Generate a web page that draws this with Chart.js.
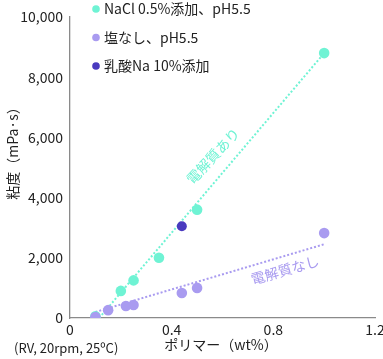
<!DOCTYPE html>
<html>
<head>
<meta charset="utf-8">
<script src="https://cdn.jsdelivr.net/npm/chart.js@4.4.1/dist/chart.umd.min.js"></script>
<style>
   html, body { margin: 0; padding: 0; background: #fff; }
   #wrap { width: 383px; height: 359px; }
</style>
</head>
<body>
<div id="wrap"><canvas id="viscChart" width="383" height="359"></canvas></div>
<script>
// series values (polymer wt%, viscosity mPa·s)
const naclX = [0.1, 0.2, 0.25, 0.35, 0.5, 1.0];
const naclY = [60, 900, 1250, 2000, 3600, 8800];
const plainX = [0.1, 0.15, 0.22, 0.25, 0.44, 0.5, 1.0];
const plainY = [30, 260, 400, 430, 830, 1000, 2820];
const lactateX = [0.44];
const lactateY = [3050];

// dotted trend lines (end points)
const naclTrendX = [0.115, 1.0];
const naclTrendY = [0, 8800];
const plainTrendX = [0.1, 1.0];
const plainTrendY = [200, 2450];

const seriesLabels = ['NaCl 0.5%添加、pH5.5', '塩なし、pH5.5', '乳酸Na 10%添加'];
const xTicks = [0, 0.4, 0.8, 1.2];
const yTicks = [0, 2000, 4000, 6000, 8000, 10000];

const turq = '#6ff3d4';
const lilac = '#a99bf0';
const indigo = '#4a3abf';
const jpFont = '"Noto Sans CJK JP", "Noto Sans", sans-serif';

function pts(xs, ys){
   return xs.map((x, i) => ({x: x, y: ys[i]}));
}

const extraText = {
   id: 'extraText',
   afterDraw(chart){
      const ctx = chart.ctx;
      ctx.save();
      ctx.font = '14px ' + jpFont;
      ctx.textBaseline = 'middle';

      // legend
      const colors = [turq, lilac, indigo];
      seriesLabels.forEach((t, i) => {
         const y = 9 + i * 28.5;
         ctx.fillStyle = colors[i];
         ctx.beginPath();
         ctx.arc(96, y, 3.8, 0, Math.PI * 2);
         ctx.fill();
         ctx.fillStyle = '#222';
         ctx.textAlign = 'left';
         ctx.fillText(t, 104, y);
      });

      // axis titles
      ctx.textAlign = 'center';
      ctx.fillStyle = '#222';
      ctx.fillText('ポリマー（wt%）', 221, 345);
      ctx.save();
      ctx.translate(13, 150);
      ctx.rotate(-Math.PI / 2);
      ctx.fillText('粘度（mPa·s）', 0, 0);
      ctx.restore();

      ctx.font = '13px ' + jpFont;
      ctx.textAlign = 'left';
      ctx.fillText('(RV, 20rpm, 25ºC)', 14, 348);

      // line labels
      ctx.font = '14px ' + jpFont;
      ctx.textAlign = 'center';
      ctx.save();
      ctx.fillStyle = turq;
      ctx.translate(213, 156);
      ctx.rotate(-47 * Math.PI / 180);
      ctx.fillText('電解質あり', 0, 0);
      ctx.restore();

      ctx.save();
      ctx.fillStyle = lilac;
      ctx.translate(285, 270);
      ctx.rotate(-16 * Math.PI / 180);
      ctx.fillText('電解質なし', 0, 0);
      ctx.restore();

      ctx.restore();
   }
};

const chartE = document.getElementById('viscChart').getContext('2d');
const viscChart = new Chart(chartE, {
   type: 'scatter',
   data: {
      datasets: [
         {
            label: seriesLabels[2],
            data: pts(lactateX, lactateY),
            backgroundColor: indigo,
            borderWidth: 0,
            pointRadius: 5,
            order: 0
         },
         {
            label: seriesLabels[1],
            data: pts(plainX, plainY),
            backgroundColor: lilac,
            borderWidth: 0,
            pointRadius: 5.3,
            order: 1
         },
         {
            label: seriesLabels[0],
            data: pts(naclX, naclY),
            backgroundColor: turq,
            borderWidth: 0,
            pointRadius: 5.3,
            order: 2
         },
         {
            label: 'trend nacl',
            data: pts(naclTrendX, naclTrendY),
            showLine: true,
            borderColor: turq,
            borderWidth: 2,
            borderDash: [2, 2],
            pointRadius: 0,
            order: 3
         },
         {
            label: 'trend plain',
            data: pts(plainTrendX, plainTrendY),
            showLine: true,
            borderColor: lilac,
            borderWidth: 2,
            borderDash: [2, 2],
            pointRadius: 0,
            order: 4
         }
      ]
   },
   options: {
      responsive: false,
      animation: false,
      layout: { padding: { top: 17, right: 8, left: 0, bottom: 0 } },
      plugins: {
         legend: { display: false },
         tooltip: { enabled: false },
         title: { display: false }
      },
      scales: {
         x: {
            type: 'linear',
            min: 0,
            max: 1.2,
            afterBuildTicks: s => { s.ticks = xTicks.map(v => ({value: v})); },
            afterFit: s => { s.height = 41; s.paddingLeft = 0; s.paddingRight = 0; },
            grid: { display: false, drawTicks: false },
            border: { display: true, color: '#8a8a8a', width: 1.3 },
            ticks: {
               color: '#222',
               font: { size: 14, family: jpFont },
               padding: 3,
               maxRotation: 0,
               callback: v => v === 0 ? '0' : v.toFixed(1)
            }
         },
         y: {
            min: 0,
            max: 10000,
            afterBuildTicks: s => { s.ticks = yTicks.map(v => ({value: v})); },
            afterFit: s => { s.width = 70; s.paddingTop = 0; s.paddingBottom = 0; },
            grid: { display: false, drawTicks: false },
            border: { display: true, color: '#8a8a8a', width: 1.3 },
            ticks: {
               color: '#222',
               font: { size: 14, family: jpFont },
               padding: 7,
               callback: v => v.toLocaleString('en-US')
            }
         }
      }
   },
   plugins: [extraText]
});
</script>
</body>
</html>
